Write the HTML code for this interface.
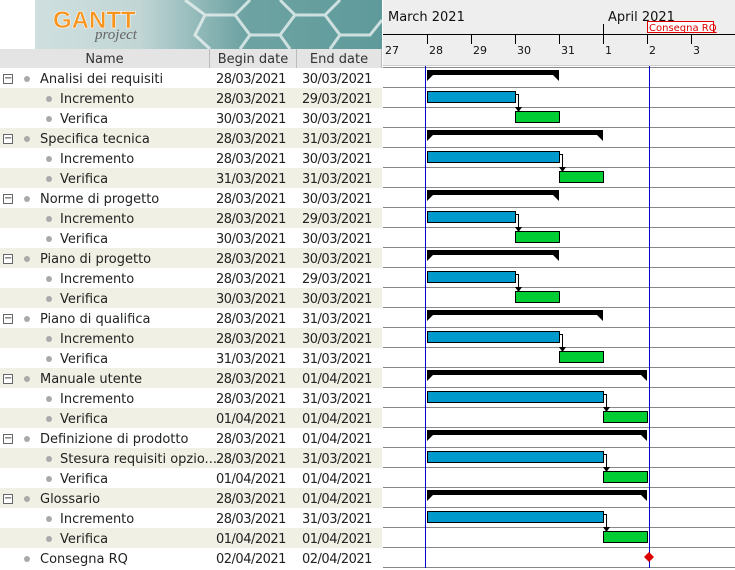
<!DOCTYPE html>
<html><head><meta charset="utf-8"><style>
body{margin:0;width:735px;height:568px;overflow:hidden;background:#fff;font-family:"DejaVu Sans","Liberation Sans",sans-serif;font-size:13px;color:#222;position:relative}
.abs{position:absolute}
.row{position:absolute;left:0;width:382px;height:20px;line-height:20px}
.cell{position:absolute;top:2px;white-space:nowrap}
.dt{letter-spacing:-0.5px}
.hdr{position:absolute;top:49px;height:19px;line-height:21px;background:#e4e4e4;border-right:1px solid #bbb;border-bottom:1px solid #bbb;text-align:center;color:#333}
</style></head><body>
<div class="abs" style="left:35px;top:0;width:347px;height:49px;background:linear-gradient(90deg,#cfdfdf 0%,#c2d6d6 30%,#6ea3a3 60%,#5f9a9a 100%)">
<svg width="347" height="49" style="position:absolute;left:0;top:0">
<g fill="none" stroke="#e8f0f0" stroke-width="3" opacity="0.8">
<path d="M150 0 L170 15 L200 15 L215 0 M170 15 L160 35 L175 49 M200 15 L215 35 L245 35 L260 15 L245 0 M215 35 L205 49 M245 35 L255 49 M260 15 L290 15 L305 0 M290 15 L305 35 L335 35 L347 20 M305 35 L295 49"/>
</g>
<text x="18" y="28" font-family="Liberation Sans" font-weight="bold" font-size="24" fill="#f7941d" stroke="#fff" stroke-width="0.5">GANTT</text>
<text x="60" y="39" font-family="Liberation Serif" font-style="italic" font-size="15" fill="#666">project</text>
</svg></div>
<div class="hdr" style="left:0;width:209px">Name</div>
<div class="hdr" style="left:210px;width:86px">Begin date</div>
<div class="hdr" style="left:297px;width:84px">End date</div>
<div id="table"></div>
<div class="abs" style="left:383px;top:0;width:352px;height:65px;background:#eeeeee;border-bottom:1px solid #ccc"></div>
<svg id="chart" class="abs" style="left:0;top:0" width="735" height="568"></svg>
<script>
const names=["Analisi dei requisiti","Incremento","Verifica","Specifica tecnica","Incremento","Verifica","Norme di progetto","Incremento","Verifica","Piano di progetto","Incremento","Verifica","Piano di qualifica","Incremento","Verifica","Manuale utente","Incremento","Verifica","Definizione di prodotto","Stesura requisiti opzio...","Verifica","Glossario","Incremento","Verifica","Consegna RQ"];
const kinds=["s","i","v","s","i","v","s","i","v","s","i","v","s","i","v","s","i","v","s","i","v","s","i","v","m"];
// day index: 28 = 28 March, 32 = 1 April
const startDays=[28,28,30,28,28,31,28,28,30,28,28,30,28,28,31,28,28,32,28,28,32,28,28,32,33];
const endDays=[30,29,30,31,30,31,30,29,30,30,29,30,31,30,31,32,31,32,32,31,32,32,31,32,33];
const dayLabels=["27","28","29","30","31","1","2","3"];
const dayValues=[27,28,29,30,31,32,33,34];
const NS="http://www.w3.org/2000/svg";
const svg=document.getElementById('chart');
const X0=427,DW=44,Y0=68,RH=20;
function x(d){return X0+(d-28)*DW;}
function y(i){return Y0+i*RH;}
function fmt(d){return d<=31?String(d).padStart(2,'0')+"/03/2021":String(d-31).padStart(2,'0')+"/04/2021";}
function mk(tag,attrs){const e=document.createElementNS(NS,tag);for(const k in attrs)e.setAttribute(k,attrs[k]);svg.appendChild(e);return e;}
const table=document.getElementById('table');
names.forEach((n,i)=>{
 const r=document.createElement('div');r.className='row';
 
 
 r.style.top=y(i)+'px';r.style.background=i%2?'#f0f0e4':'#fff';
 const sub=kinds[i]=='i'||kinds[i]=='v';
 let h='';
 if(kinds[i]=='s')h+='<span class="cell" style="left:3px;top:6px;width:8px;height:8px;border:1px solid #666;line-height:7px;font-size:10px;text-align:center;background:#fff">−</span>';
 h+='<span class="cell" style="left:'+(sub?46:24)+'px;top:8px;width:6px;height:6px;border-radius:50%;background:#aaa"></span>';
 h+='<span class="cell" style="left:'+(sub?60:40)+'px">'+n+'</span>';
 h+='<span class="cell dt" style="left:216px">'+fmt(startDays[i])+'</span>';
 h+='<span class="cell dt" style="left:302px">'+fmt(endDays[i])+'</span>';
 r.innerHTML=h;table.appendChild(r);
});
let t=mk('text',{x:388,y:21,'font-size':13,fill:'#111'});t.textContent='March 2021';


t=mk('text',{x:608,y:21,'font-size':13,fill:'#111'});t.textContent='April 2021';


mk('line',{x1:383,y1:34.5,x2:735,y2:34.5,stroke:'#000'});
mk('line',{x1:x(32)+.5,y1:24,x2:x(32)+.5,y2:44,stroke:'#000'});
dayValues.forEach((d,k)=>{
 if(k>0)mk('line',{x1:x(d)+.5,y1:34,x2:x(d)+.5,y2:44,stroke:'#000'});
 const tt=mk('text',{x:(k==0?385:x(d)+2),y:54,'font-size':11,fill:'#111'});tt.textContent=dayLabels[k];
 
 
});
const rq=mk('rect',{x:647.5,y:21.5,width:66,height:11,fill:'#fff',stroke:'#d00'});


t=mk('text',{x:649,y:31,'font-size':10,fill:'#d00','text-decoration':'underline'});t.textContent='Consegna RQ';
for(let i=0;i<=names.length;i++)mk('line',{x1:383,y1:y(i)-0.5,x2:735,y2:y(i)-0.5,stroke:'#888'});
mk('line',{x1:425.5,y1:66,x2:425.5,y2:568,stroke:'#00c'});
mk('line',{x1:649.5,y1:66,x2:649.5,y2:568,stroke:'#00c'});
names.forEach((n,i)=>{
 const s=x(startDays[i]),e=x(endDays[i]+1),ty=y(i);
 if(kinds[i]=='s'){
  const p=mk('path',{d:`M${s} ${ty+2}H${e}V${ty+13}L${e-6} ${ty+7}H${s+6}L${s} ${ty+13}Z`,fill:'#000'});
  
  
 }else if(kinds[i]=='m'){
  const c=x(startDays[i])+2;
  const p=mk('path',{d:`M${c} ${ty+4}L${c+5} ${ty+9}L${c} ${ty+14}L${c-5} ${ty+9}Z`,fill:'#d00'});
  
  
 }else{
  const r=mk('rect',{x:s+.5,y:ty+3.5,width:e-s,height:11,fill:kinds[i]=='i'?'#0099cc':'#00cc33',stroke:'#000'});
  
  
  if(kinds[i]=='i'){
   const ax=e+3;
   mk('path',{d:`M${e} ${ty+6.5}H${ax+.5}V${ty+22}`,fill:'none',stroke:'#000'});
   mk('path',{d:`M${ax-3} ${ty+19}H${ax+4}L${ax+.5} ${ty+24}Z`,fill:'#000'});
  }
 }
});
</script>
</body></html>
